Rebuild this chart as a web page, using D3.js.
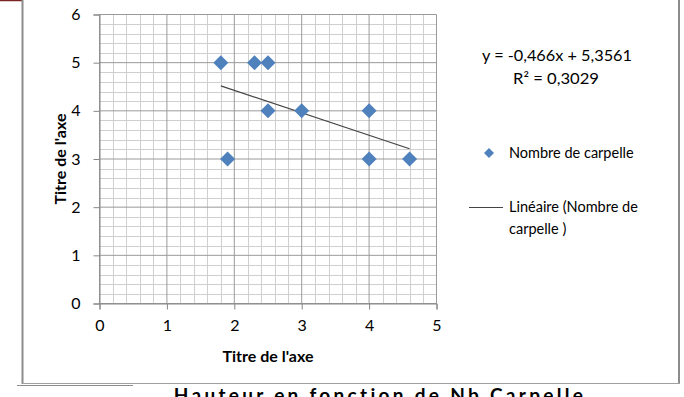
<!DOCTYPE html>
<html>
<head>
<meta charset="utf-8">
<script src="https://cdn.jsdelivr.net/npm/d3@7"></script>
<style>
  html, body { margin: 0; padding: 0; background: #fff; overflow: hidden; }
  svg { display: block; }
  text { font-family: Lato, "Liberation Sans", sans-serif; fill: #000; }
</style>
</head>
<body>
<svg id="chart" width="684" height="397"></svg>
<script>
// ---- data ----
const xValues = [1.8, 2.3, 2.5, 2.5, 3, 4, 1.9, 4, 4.6];
const yValues = [5, 5, 5, 4, 4, 4, 3, 3, 3];
const trendSlope = -0.466;
const trendIntercept = 5.3561;
const xTicks = [0, 1, 2, 3, 4, 5];
const yTicks = [0, 1, 2, 3, 4, 5, 6];
const equationLabel = "y = -0,466x + 5,3561";
const r2Label = "R² = 0,3029";
const seriesName = "Nombre de carpelle";
const trendNameLines = ["Linéaire (Nombre de", "carpelle )"];
const xAxisTitle = "Titre de l'axe";
const yAxisTitle = "Titre de l'axe";
const bottomTitle = "Hauteur en fonction de Nb Carpelle";

const svg = d3.select("#chart");
const x = d3.scaleLinear().domain([0, 5]).range([99.5, 436.5]);
const y = d3.scaleLinear().domain([0, 6]).range([303.5, 14.5]);

// frame pieces
svg.append("line").attr("x1", 0).attr("x2", 22).attr("y1", 0.5).attr("y2", 0.5)
  .attr("stroke", "#7b2424").attr("stroke-width", 1.5);
svg.append("line").attr("x1", 22.5).attr("x2", 22.5).attr("y1", 0).attr("y2", 384)
  .attr("stroke", "#8c8c8c").attr("stroke-width", 2);
svg.append("line").attr("x1", 679).attr("x2", 679).attr("y1", 0).attr("y2", 384)
  .attr("stroke", "#8c8c8c").attr("stroke-width", 2);
svg.append("line").attr("x1", 22).attr("x2", 680).attr("y1", 383.5).attr("y2", 383.5)
  .attr("stroke", "#a0a0a0").attr("stroke-width", 1);
svg.append("line").attr("x1", 17).attr("x2", 133).attr("y1", 385.5).attr("y2", 385.5)
  .attr("stroke", "#8c8c8c").attr("stroke-width", 1);

// minor grid
const xMinor = d3.range(0, 5.0001, 0.2).map(v => +v.toFixed(1));
const yMinor = d3.range(0, 6.0001, 0.2).map(v => +v.toFixed(1));
const g = svg.append("g");
g.selectAll(".vx").data(xMinor.filter(v => !xTicks.includes(v))).join("line")
  .attr("x1", d => Math.round(x(d)) + 0.5).attr("x2", d => Math.round(x(d)) + 0.5)
  .attr("y1", y(6)).attr("y2", y(0)).attr("stroke", "#cfcfcf");
g.selectAll(".hy").data(yMinor.filter(v => !yTicks.includes(v))).join("line")
  .attr("y1", d => Math.round(y(d)) + 0.5).attr("y2", d => Math.round(y(d)) + 0.5)
  .attr("x1", x(0)).attr("x2", x(5)).attr("stroke", "#cfcfcf");
// major grid
g.selectAll(".mx").data(xTicks).join("line")
  .attr("x1", d => x(d)).attr("x2", d => x(d))
  .attr("y1", y(6)).attr("y2", y(0)).attr("stroke", "#9a9a9a");
g.selectAll(".my").data(yTicks).join("line")
  .attr("y1", d => y(d)).attr("y2", d => y(d))
  .attr("x1", x(0)).attr("x2", x(5)).attr("stroke", "#9a9a9a");

// axes
const xAxis = svg.append("g").attr("transform", `translate(0,${y(0)})`)
  .call(d3.axisBottom(x).tickValues(xTicks).tickSize(6).tickPadding(10).tickFormat(d3.format("d")));
const yAxis = svg.append("g").attr("transform", `translate(${x(0)},0)`)
  .call(d3.axisLeft(y).tickValues(yTicks).tickSize(6).tickPadding(13).tickFormat(d3.format("d")));
[xAxis, yAxis].forEach(a => {
  a.select(".domain").attr("stroke", "#868686");
  a.selectAll(".tick line").attr("stroke", "#868686");
  a.selectAll(".tick text").style("font-family", "Lato, sans-serif").style("font-size", "16px").attr("fill", "#222");
});

// trendline
const xs = d3.extent(xValues);
svg.append("line")
  .attr("x1", x(xs[0])).attr("y1", y(trendSlope * xs[0] + trendIntercept))
  .attr("x2", x(xs[1])).attr("y2", y(trendSlope * xs[1] + trendIntercept))
  .attr("stroke", "#444").attr("stroke-width", 1.2);

// points
const diamond = s => `M0,${-s}L${s},0L0,${s}L${-s},0Z`;
svg.selectAll(".pt").data(xValues.map((v, i) => [v, yValues[i]])).join("path")
  .attr("d", diamond(7.5))
  .attr("transform", d => `translate(${x(d[0])},${y(d[1])})`)
  .attr("fill", "#4f81bd");

// axis titles
svg.append("text").attr("x", 268).attr("y", 362).attr("text-anchor", "middle")
  .style("font-size", "16px").style("font-weight", "bold").text(xAxisTitle);
svg.append("text").attr("transform", "translate(66,159) rotate(-90)").attr("text-anchor", "middle")
  .style("font-size", "16px").style("font-weight", "bold").text(yAxisTitle);

// equation
svg.append("text").attr("x", 482).attr("y", 61).style("font-size", "15px")
  .attr("textLength", 150).attr("lengthAdjust", "spacingAndGlyphs").text(equationLabel);
svg.append("text").attr("x", 513).attr("y", 84).style("font-size", "15px")
  .attr("textLength", 86).attr("lengthAdjust", "spacingAndGlyphs").text(r2Label);

// legend
svg.append("path").attr("d", diamond(5)).attr("transform", "translate(489,153)").attr("fill", "#4f81bd");
svg.append("text").attr("x", 509).attr("y", 158).style("font-size", "14.5px").text(seriesName);
svg.append("line").attr("x1", 469).attr("x2", 503).attr("y1", 207.5).attr("y2", 207.5)
  .attr("stroke", "#444").attr("stroke-width", 1.2);
trendNameLines.forEach((t, i) => {
  svg.append("text").attr("x", 509).attr("y", 212 + i * 22).style("font-size", "14.5px").text(t);
});

// cut-off bottom title
svg.append("text").attr("x", 380).attr("y", 402).attr("text-anchor", "middle")
  .style("font-size", "19px").style("font-weight", "bold").style("letter-spacing", "3.3px").text(bottomTitle);
</script>
</body>
</html>
